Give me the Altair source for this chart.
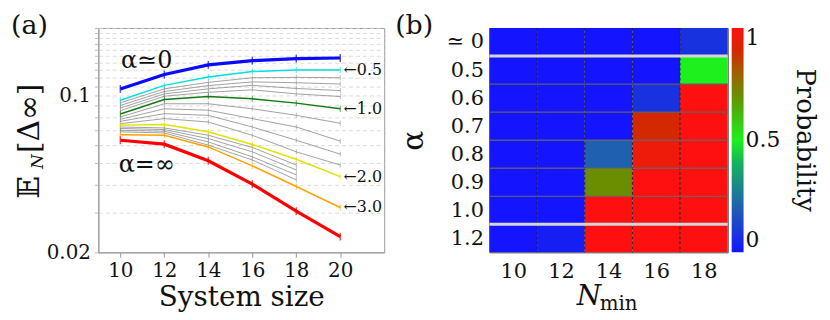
import json
import altair as alt
import pandas as pd

FONT = "DejaVu Serif"

# ---------------- panel (a) data ----------------
sizes = [10, 12, 14, 16, 18, 20]
a_zero = [0.107, 0.124, 0.137, 0.143, 0.146, 0.147]
a05 = [0.0953, 0.111, 0.121, 0.128, 0.130, 0.130]
a06 = [0.0928, 0.1071, 0.1145, 0.1200, 0.1205, 0.1200]
a07 = [0.0903, 0.1042, 0.1107, 0.1150, 0.1140, 0.1125]
a08 = [0.0879, 0.1017, 0.1071, 0.1110, 0.1075, 0.1052]
a09 = [0.0856, 0.0993, 0.1034, 0.1060, 0.1017, 0.0990]
a10 = [0.0827, 0.0960, 0.0990, 0.0967, 0.0925, 0.0873]
a12 = [0.0802, 0.0919, 0.0919, 0.0873, 0.0816, 0.0752]
a14 = [0.0783, 0.0873, 0.0860, 0.0789, 0.0724, 0.0626]
a16 = [0.0767, 0.0830, 0.0816, 0.0724, 0.0632, 0.0548]
a18 = [0.0749, 0.0789, 0.0762, 0.0665, 0.0561, 0.0490]
a20 = [0.0738, 0.0743, 0.0689, 0.0605, 0.0520, 0.0435]
a22 = [0.0724, 0.0717, 0.0665, 0.0587, 0.0490]
a24 = [0.0713, 0.0705, 0.0643, 0.0561, 0.0466]
a26 = [0.0700, 0.0693, 0.0621, 0.0533, 0.0443]
a28 = [0.0689, 0.0681, 0.0601, 0.0516, 0.0421]
a30 = [0.0668, 0.0665, 0.0590, 0.0486, 0.0393, 0.0317]
a_inf = [0.0632, 0.0607, 0.0512, 0.0403, 0.0305, 0.0235]

curve_names = ["≃0", "0.5", "0.6", "0.7", "0.8", "0.9", "1.0", "1.2", "1.4",
               "1.6", "1.8", "2.0", "2.2", "2.4", "2.6", "2.8", "3.0", "∞"]
curve_values = [a_zero, a05, a06, a07, a08, a09, a10, a12, a14, a16, a18,
                a20, a22, a24, a26, a28, a30, a_inf]
curve_colors = {"≃0": "#0a0aff", "0.5": "#00e0e0", "1.0": "#137a13",
                "2.0": "#e2e200", "3.0": "#ffa200", "∞": "#ff0000"}
thick_curves = ["≃0", "∞"]
gray_color = "#8a8a8a"

y_grid_vals = [0.02, 0.03, 0.04, 0.05, 0.06, 0.07, 0.08, 0.09, 0.1, 0.11,
               0.12, 0.13, 0.14, 0.15, 0.16, 0.17, 0.18, 0.19, 0.2]

ann_text = ["α≃0", "α=∞"]
ann_N = [11.2, 11.2]
ann_v = [0.143, 0.049]

end_text = ["←0.5", "←1.0", "←2.0", "←3.0"]
end_v = [0.130, 0.0873, 0.0435, 0.0317]

# ---------------- panel (b) data ----------------
alpha_labels = ["≃ 0", "0.5", "0.6", "0.7", "0.8", "0.9", "1.0", "1.2"]
n_min = [10, 12, 14, 16, 18]
prob = [
    [0.0, 0.0, 0.0, 0.0, 0.08],
    [0.0, 0.0, 0.0, 0.0, 0.5],
    [0.0, 0.0, 0.0, 0.08, 1.0],
    [0.0, 0.0, 0.0, 0.9, 1.0],
    [0.0, 0.0, 0.2, 0.96, 1.0],
    [0.0, 0.0, 0.7, 1.0, 1.0],
    [0.0, 0.0, 1.0, 1.0, 1.0],
    [0.0, 0.03, 1.0, 1.0, 1.0],
]
cmap_stops = [0, 0.1, 0.2, 0.3, 0.4, 0.5, 0.6, 0.7, 0.8, 0.9, 1.0]
cmap_colors = ["#1414ff", "#1a3ad8", "#2060b0", "#1a8a86", "#12b45c", "#1ef01e",
               "#40c010", "#6b8e00", "#a06000", "#d42800", "#ff1010"]
light_separators = [1, 7]

# ---------------- build panel (a) ----------------
rows = []
for name, vals in zip(curve_names, curve_values):
    for n, v in zip(sizes, vals):
        rows.append({"s": name, "N": n, "v": v})
df = pd.DataFrame(rows)

WA, HA = 288, 226

x_a = alt.X("N:Q", scale=alt.Scale(domain=[9, 22], nice=False, zero=False),
            axis=alt.Axis(values=sizes, title="System size", grid=False,
                          labelFontSize=20, titleFontSize=28, titlePadding=4,
                          labelPadding=3, tickSize=5, domainColor="#999",
                          tickColor="#999", labelColor="#111", titleColor="#111",
                          titleFontWeight="normal"))
y_a = alt.Y("v:Q", scale=alt.Scale(type="log", domain=[0.02, 0.2], nice=False),
            axis=alt.Axis(values=y_grid_vals, title=None, grid=True,
                          gridDash=[4, 3], gridColor="#d2d2d2", gridWidth=0.8,
                          labelExpr="abs(datum.value-0.1)<1e-6 ? '0.1' : (abs(datum.value-0.02)<1e-6 ? '0.02' : '')",
                          labelFontSize=20, tickSize=4, domainColor="#999",
                          tickColor="#bbb", labelColor="#111", labelPadding=4))

base = alt.Chart(df)
layers_a = []
gray_names = [n for n in curve_names if n not in curve_colors]
gray_sel = base.transform_filter(alt.FieldOneOfPredicate(field="s", oneOf=gray_names))
layers_a.append(gray_sel.mark_line(strokeWidth=0.8, color=gray_color).encode(
    x=x_a, y=y_a, detail="s:N"))
layers_a.append(gray_sel.mark_tick(orient="vertical", size=5, thickness=0.8,
                                   color=gray_color).encode(x=x_a, y=y_a))
colored = [n for n in curve_names if n in curve_colors and n not in thick_curves] + \
          [n for n in curve_names if n in thick_curves]
for name in colored:
    thick = name in thick_curves
    sub = base.transform_filter(alt.FieldEqualPredicate(field="s", equal=name))
    layers_a.append(sub.mark_line(strokeWidth=3.2 if thick else 1.5,
                                  color=curve_colors[name]).encode(x=x_a, y=y_a))
    layers_a.append(sub.mark_tick(orient="vertical", size=8 if thick else 6,
                                  thickness=1.5 if thick else 1,
                                  color=curve_colors[name]).encode(x=x_a, y=y_a))

ann_df = pd.DataFrame({"t": ann_text, "N": ann_N, "v": ann_v})
layers_a.append(alt.Chart(ann_df).mark_text(fontSize=24, align="center", baseline="middle",
                                            color="#111").encode(
    x=x_a, y=y_a, text="t:N"))
end_df = pd.DataFrame({"t": end_text, "v": end_v, "N": [20.15] * len(end_text)})
layers_a.append(alt.Chart(end_df).mark_text(fontSize=16, align="left", baseline="middle",
                                            color="#111").encode(
    x=x_a, y=y_a, text="t:N"))

one = pd.DataFrame({"t": ["(a)"]})
layers_a.append(alt.Chart(one).mark_text(fontSize=27, align="left", baseline="alphabetic",
                                         color="#111").encode(
    x=alt.value(-88), y=alt.value(6), text="t:N"))
# y title pieces: E_N[Δ∞]
ytitle_parts = ["𝔼", "N", "[Δ∞]"]
layers_a.append(alt.Chart(pd.DataFrame({"t": [ytitle_parts[0]]})).mark_text(
    fontSize=30, angle=270, align="left", baseline="alphabetic", color="#111").encode(
    x=alt.value(-60), y=alt.value(172), text="t:N"))
layers_a.append(alt.Chart(pd.DataFrame({"t": [ytitle_parts[1]]})).mark_text(
    fontSize=17, angle=270, align="left", baseline="alphabetic", color="#111",
    fontStyle="italic").encode(
    x=alt.value(-56), y=alt.value(142), text="t:N"))
layers_a.append(alt.Chart(pd.DataFrame({"t": [ytitle_parts[2]]})).mark_text(
    fontSize=30, angle=270, align="left", baseline="alphabetic", color="#111").encode(
    x=alt.value(-60), y=alt.value(126), text="t:N"))

left = alt.layer(*layers_a).properties(width=WA, height=HA,
                                       view=alt.ViewBackground(stroke="#999"))

# ---------------- build panel (b) ----------------
WB, HB = 240, 226
cells = pd.DataFrame([{"r": i, "n": n, "p": prob[i][j]}
                      for i in range(len(alpha_labels)) for j, n in enumerate(n_min)])

y_axis_b = alt.Axis(values=[i + 0.5 for i in range(len(alpha_labels))],
                    labelExpr=json.dumps(alpha_labels) + "[floor(datum.value)]",
                    title="α", titleFontSize=30, titleFontWeight="normal",
                    titlePadding=18, labelFontSize=21, ticks=False, domain=False,
                    grid=False, labelPadding=6, labelColor="#111", titleColor="#111")
x_axis_b = alt.Axis(values=n_min, title=None, ticks=False, domain=False, grid=False,
                    labelFontSize=21, labelPadding=8, labelColor="#111")
ysc = alt.Scale(domain=[0, len(alpha_labels)], reverse=True, nice=False, zero=False)
xsc = alt.Scale(domain=[n_min[0] - 1, n_min[-1] + 1], nice=False, zero=False)

rects = alt.Chart(cells).transform_calculate(
    x0="datum.n - 1", x1="datum.n + 1", y0="datum.r", y1="datum.r + 1"
).mark_rect(strokeWidth=0).encode(
    x=alt.X("x0:Q", scale=xsc, axis=x_axis_b), x2="x1:Q",
    y=alt.Y("y0:Q", scale=ysc, axis=y_axis_b), y2="y1:Q",
    color=alt.Color("p:Q", scale=alt.Scale(domain=cmap_stops, range=cmap_colors,
                                          interpolate="rgb"),
                    legend=alt.Legend(title=None, values=[0, 0.5, 1],
                                      labelExpr="'' + datum.value",
                                      orient="none", legendX=638, legendY=0,
                                      direction="vertical",
                                      gradientLength=HB, gradientThickness=12,
                                      labelFontSize=22,
                                      labelColor="#111",
                                      gradientStrokeColor="#888")))

vb = pd.DataFrame({"n": n_min[1:]})
vrules = alt.Chart(vb).transform_calculate(b="datum.n - 1").mark_rule(
    strokeDash=[3, 2], color="#222", strokeWidth=1).encode(
    x=alt.X("b:Q", scale=xsc, axis=x_axis_b), y=alt.value(0), y2=alt.value(HB))

hb = pd.DataFrame({"r": list(range(1, len(alpha_labels)))})
hrules = alt.Chart(hb).mark_rule(color="#606060", strokeWidth=1.2).encode(
    y=alt.Y("r:Q", scale=ysc, axis=y_axis_b), x=alt.value(0), x2=alt.value(WB))
lb = pd.DataFrame({"r": light_separators})
lrules = alt.Chart(lb).mark_rule(color="#d6d6d6", strokeWidth=3).encode(
    y=alt.Y("r:Q", scale=ysc, axis=y_axis_b), x=alt.value(0), x2=alt.value(WB))

lab_b = alt.Chart(pd.DataFrame({"t": ["(b)"]})).mark_text(
    fontSize=27, align="left", baseline="alphabetic", color="#111").encode(
    x=alt.value(-95), y=alt.value(6), text="t:N")
nmin_parts = ["N", "min"]
n_txt = alt.Chart(pd.DataFrame({"t": [nmin_parts[0]]})).mark_text(
    fontSize=28, fontStyle="italic", align="left", baseline="alphabetic",
    color="#111").encode(x=alt.value(88), y=alt.value(279), text="t:N")
min_txt = alt.Chart(pd.DataFrame({"t": [nmin_parts[1]]})).mark_text(
    fontSize=20, align="left", baseline="alphabetic", color="#111").encode(
    x=alt.value(111), y=alt.value(284), text="t:N")
prob_txt = alt.Chart(pd.DataFrame({"t": ["Probability"]})).mark_text(
    fontSize=26, angle=90, align="center", baseline="middle", color="#111").encode(
    x=alt.value(318), y=alt.value(HB / 2), text="t:N")

right = alt.layer(rects, vrules, hrules, lrules, lab_b, n_txt, min_txt, prob_txt).properties(
    width=WB, height=HB, view=alt.ViewBackground(stroke="#444"))

chart = alt.hconcat(left, right, spacing=9).properties(
    padding={"left": 2, "top": 2, "right": 3, "bottom": 0}
).configure(font=FONT)

chart.save("out.html", embed_options={"renderer": "svg", "actions": False})
